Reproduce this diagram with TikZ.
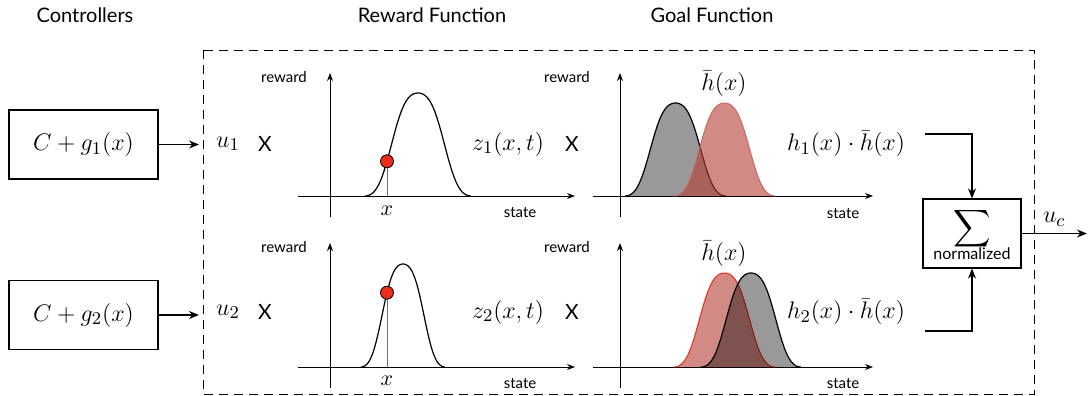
\documentclass[tikz,border=0pt]{standalone}
\usepackage{amsmath}
\usepackage{amssymb}
\usepackage{fontspec}
\setsansfont{Lato}
\usepackage{tikz}
\usetikzlibrary{arrows.meta}

\definecolor{rougefond}{RGB}{180,60,50}
\definecolor{rougetrait}{RGB}{200,105,95}
\definecolor{rougevif}{RGB}{235,45,25}

\tikzset{
  bloc/.style={draw, line width=0.6pt, inner sep=0pt},
  titre/.style={font=\sffamily\fontsize{10}{12}\selectfont},
  lbl/.style={font=\sffamily\fontsize{7.5}{9}\selectfont},
  fois/.style={font=\sffamily\fontsize{10.5}{12}\selectfont},
  maths/.style={font=\fontsize{12.5}{15}\selectfont},
  axe/.style={-{Stealth[length=4pt,width=3pt]}, line width=0.5pt},
  fleche/.style={-{Stealth[length=5pt,width=4pt]}, line width=0.8pt},
  point/.style={circle, fill=rougevif, draw=black, line width=0.4pt, inner sep=0pt, minimum size=6.5pt},
  grise/.style={fill=black, fill opacity=0.4, draw=black, line width=0.6pt},
  rouge/.style={fill=rougefond, fill opacity=0.6, draw=rougetrait, line width=0.5pt},
  declare function={cosb(\t)=(1-cos(360*\t))/2;
    bell(\t)=(cosb(\t)+3*cosb(\t)^2-2*cosb(\t)^3)/2;}
}

\begin{document}
\begin{tikzpicture}[x=0.5pt, y=-0.5pt]
\useasboundingbox (0,0) rectangle (1089,396);
% Titres
\node[titre] (tctrl) at (85,15) {Controllers};
\node[titre] (trew) at (432,15) {Reward Function};
\node[titre] (tgoal) at (712,15) {Goal Function};
% Cadre pointillé
\draw[line width=0.5pt, dash pattern=on 4.5pt off 3pt] (203,50) rectangle (1034,394);
% Contrôleurs
\node[bloc, minimum width=74.5pt, minimum height=34.5pt, maths] (ctrl1) at (83.5,144.5) {$C+g_1(x)$};
\node[bloc, minimum width=74.5pt, minimum height=34.5pt, maths] (ctrl2) at (83.5,315) {$C+g_2(x)$};
\coordinate (e1) at (199,144.5);
\coordinate (e2) at (199,315);
\draw[fleche] (ctrl1) -- (e1);
\draw[fleche] (ctrl2) -- (e2);
% Facteurs
\node[maths] (u1) at (228,144) {$u_1$};
\node[fois] (f1) at (265,144) {X};
\node[maths] (u2) at (228,312) {$u_2$};
\node[fois] (f2) at (265,312) {X};
\node[maths] (z1) at (508,144) {$z_1(x,t)$};
\node[fois] (f3) at (572,144) {X};
\node[maths] (z2) at (508,312) {$z_2(x,t)$};
\node[fois] (f4) at (572,312) {X};
\node[maths] (h1) at (846,144) {$h_1(x)\cdot\bar{h}(x)$};
\node[maths] (h2) at (846,312) {$h_2(x)\cdot\bar{h}(x)$};
% Récompense, haut
\draw[axe] (298,196) -- (575,196);
\draw[axe] (330,217) -- (330,73);
\node[lbl] (rw1) at (284,77) {reward};
\node[lbl] (st1) at (520,213) {state};
\draw[line width=0.6pt] plot[domain=0:1, samples=80, variable=\t] ({365+106*\t},{196-103*bell(\t)});
\draw[black!55, line width=0.5pt] (387,196) -- (387,161.3);
\node[point] (p1) at (387,161.3) {};
\node[font=\fontsize{11}{13}\selectfont] (x1) at (387,211) {$x$};
% Récompense, bas
\draw[axe] (298,367) -- (575,367);
\draw[axe] (330,388) -- (330,243);
\node[lbl] (rw2) at (284,247) {reward};
\node[lbl] (st2) at (520,384) {state};
\draw[line width=0.6pt] plot[domain=0:1, samples=80, variable=\t] ({361+84*\t},{367-103*bell(\t)});
\draw[black!55, line width=0.5pt] (387,367) -- (387,292.7);
\node[point] (p2) at (387,292.7) {};
\node[font=\fontsize{11}{13}\selectfont] (x2) at (387,381) {$x$};
% But, haut
\draw[axe] (593,196) -- (873,196);
\draw[axe] (620,217) -- (620,73);
\node[lbl] (rw3) at (567,77) {reward};
\node[lbl] (st3) at (843,214) {state};
\node[maths] (hb1) at (724,84) {$\bar{h}(x)$};
\filldraw[grise] plot[domain=0:1, samples=80, variable=\t] ({625+101*\t},{196-93*bell(\t)});
\filldraw[rouge] plot[domain=0:1, samples=80, variable=\t] ({674+101*\t},{196-93*bell(\t)});
% But, bas
\draw[axe] (593,367) -- (873,367);
\draw[axe] (620,388) -- (620,243);
\node[lbl] (rw4) at (567,247) {reward};
\node[lbl] (st4) at (843,384) {state};
\node[maths] (hb2) at (724,254) {$\bar{h}(x)$};
\filldraw[rouge, draw=rougevif] plot[domain=0:1, samples=80, variable=\t] ({674+101*\t},{367-94*bell(\t)});
\filldraw[grise] plot[domain=0:1, samples=80, variable=\t] ({701+100*\t},{367-94*bell(\t)});
% Somme
\node[bloc, minimum width=49pt, minimum height=34.5pt, align=center] (somme) at (972,233.5)
  {{\fontsize{13}{15}\selectfont$\displaystyle\sum$}\\[-2pt]{\sffamily\fontsize{8}{9}\selectfont normalized}};
\coordinate (s1) at (925,134);
\coordinate (s2) at (925,331);
\coordinate (sortie) at (1087,233.5);
\draw[fleche] (s1) -| (somme.north);
\draw[fleche] (s2) -| (somme.south);
\draw[fleche] (somme.east) -- node[above, maths] {$u_c$} (sortie);
\end{tikzpicture}
\end{document}
